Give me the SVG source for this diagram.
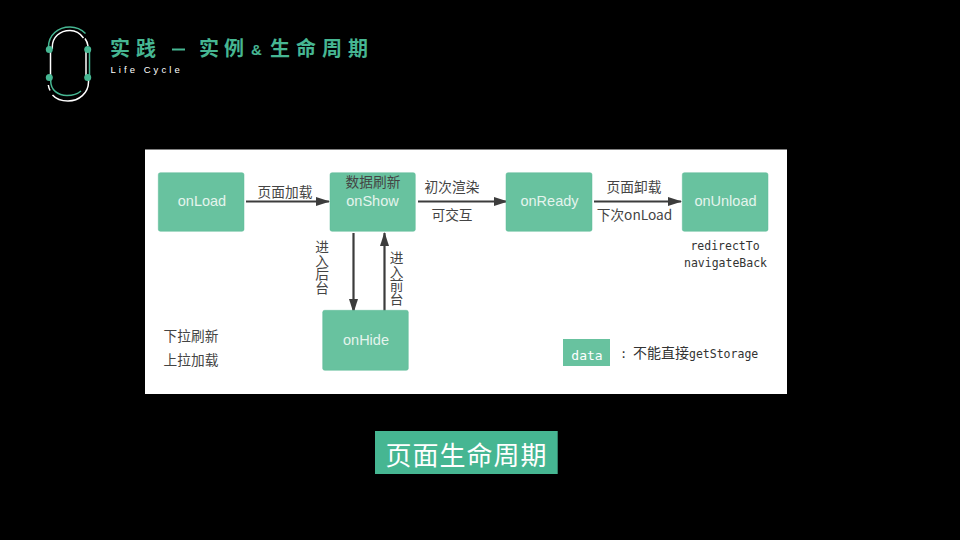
<svg xmlns="http://www.w3.org/2000/svg" width="960" height="540" viewBox="0 0 960 540">
<style>
.node{fill:#68c29f;stroke:#5fbb98;stroke-width:.5}
.nt{font-family:"Liberation Sans","Noto Sans",sans-serif;font-size:14.5px;fill:#e4f4ed;text-anchor:middle}
.lb{font-family:"Noto Sans CJK SC",sans-serif;font-size:13.7px;fill:#444;text-anchor:middle}
.vl{font-family:"Noto Sans CJK SC",sans-serif;font-size:13.7px;fill:#444;writing-mode:vertical-rl;text-orientation:upright}
.mono{font-family:"DejaVu Sans Mono",monospace;font-size:11.500px;fill:#333;text-anchor:middle}
.title{font-family:"Noto Sans CJK SC",sans-serif;font-weight:700;font-size:20px;fill:#46b692}
.conn{stroke:#3c3c3c;stroke-width:2.200;fill:none;marker-end:url(#arr)}
.lg{fill:none;stroke:#46b692;stroke-width:1.500}
.lw{fill:none;stroke:#fff;stroke-width:1.500}
</style>
<defs>
<marker id="arr" markerUnits="userSpaceOnUse" markerWidth="14" markerHeight="10" refX="13" refY="5" orient="auto"><path d="M0 0.500L14 5L0 9.500Z" fill="#3c3c3c"/></marker>
</defs>
<rect width="960" height="540" fill="#000"/>
<g id="logo">
<path class="lg" d="M48.500 49V47C48.500 35 58 27 70 27C76 27 81 29 85.500 33.500"/>
<path class="lw" d="M52.300 49V47C52.300 37 60 30.500 70 30.500C75 30.500 80 33 83.500 38"/>
<path class="lw" d="M85 38.500Q87.500 42 88 46"/>
<path class="lw" d="M50.500 49V78M86 49V78"/>
<path class="lg" d="M89.500 49V78"/>
<path class="lg" d="M50.700 78V81C50.700 90 58 95.500 67 95.500C73 95.500 77.500 94 81 91"/>
<path class="lw" d="M88.500 78V82C88.500 93 79 101 68 101C61 101 56 99 52.500 95"/>
<path class="lw" d="M48.300 85Q48.800 88 50 90.500"/>
<circle cx="49.300" cy="49.500" r="3.500" fill="#46b692"/><circle cx="87.700" cy="49.500" r="3.500" fill="#46b692"/>
<circle cx="49.300" cy="77.500" r="3.500" fill="#46b692"/><circle cx="87.700" cy="77.500" r="3.500" fill="#46b692"/>
</g>
<g id="heading">
<text class="title" x="110" y="56" letter-spacing="6">实践</text>
<rect x="172" y="48.500" width="13" height="2" fill="#46b692"/>
<text class="title" x="199" y="56" letter-spacing="5">实例</text>
<text x="251" y="55" font-family="Liberation Sans,sans-serif" font-weight="700" font-size="15" fill="#46b692">&amp;</text>
<text class="title" x="270" y="56" letter-spacing="6">生命周期</text>
<text x="110.500" y="73" font-family="Liberation Sans,sans-serif" font-size="9.500" letter-spacing="3.050" fill="#fff">Life Cycle</text>
</g>
<rect x="145" y="149.500" width="642" height="244.500" fill="#fff"/>
<g id="connectors">
<path class="conn" d="M246 201.500H329"/>
<path class="conn" d="M418 201.500H507"/>
<path class="conn" d="M594 201.500H681"/>
<path class="conn" d="M353.500 233V312"/>
<path class="conn" d="M384.500 311V233"/>
</g>
<g id="onLoad"><rect class="node" x="158.300" y="172.700" width="85.700" height="58.600" rx="2"/><text class="nt" x="202" y="206">onLoad</text></g>
<g id="onShow"><rect class="node" x="330" y="172.700" width="85.300" height="58.600" rx="2"/><text class="nt" x="372.500" y="206">onShow</text><text class="lb" x="373" y="187">数据刷新</text></g>
<g id="onReady"><rect class="node" x="506" y="172.700" width="86" height="58.600" rx="2"/><text class="nt" x="549.500" y="206">onReady</text></g>
<g id="onUnload"><rect class="node" x="682.300" y="172.700" width="85.700" height="58.600" rx="2"/><text class="nt" x="725.500" y="206">onUnload</text></g>
<g id="onHide"><rect class="node" x="322.700" y="310.300" width="85.600" height="60" rx="2"/><text class="nt" x="366" y="345">onHide</text></g>
<g id="labels">
<text class="lb" x="285" y="196.500">页面加载</text>
<text class="lb" x="452" y="191.500">初次渲染</text>
<text class="lb" x="452" y="220">可交互</text>
<text class="lb" x="634" y="191.500">页面卸载</text>
<text class="lb" x="634.500" y="220">下次onLoad</text>
<text class="vl" x="322" y="240">进入后台</text>
<text class="vl" x="396.500" y="251">进入前台</text>
<text class="lb" x="191" y="340.500" fill="#333">下拉刷新</text>
<text class="lb" x="191" y="365" fill="#333">上拉加载</text>
<text class="mono" x="725" y="250">redirectTo</text>
<text class="mono" x="725.500" y="267">navigateBack</text>
</g>
<g id="data"><rect x="563" y="339" width="47" height="27" fill="#68c29f"/><text x="587" y="360" text-anchor="middle" font-family="DejaVu Sans Mono,monospace" font-size="13" fill="#fff">data</text></g>
<text x="620" y="358" font-family="DejaVu Sans Mono,monospace" font-size="12" fill="#333">:</text>
<text x="633" y="358" font-family="Noto Sans CJK SC,sans-serif" font-size="14" fill="#333">不能直接<tspan font-family="DejaVu Sans Mono,monospace" font-size="11.500">getStorage</tspan></text>
<g id="banner"><rect x="375" y="431" width="182.700" height="43" fill="#46b692"/><text x="466.500" y="465" text-anchor="middle" font-family="Noto Sans CJK SC,sans-serif" font-size="26" letter-spacing="1" fill="#fff">页面生命周期</text></g>
</svg>
